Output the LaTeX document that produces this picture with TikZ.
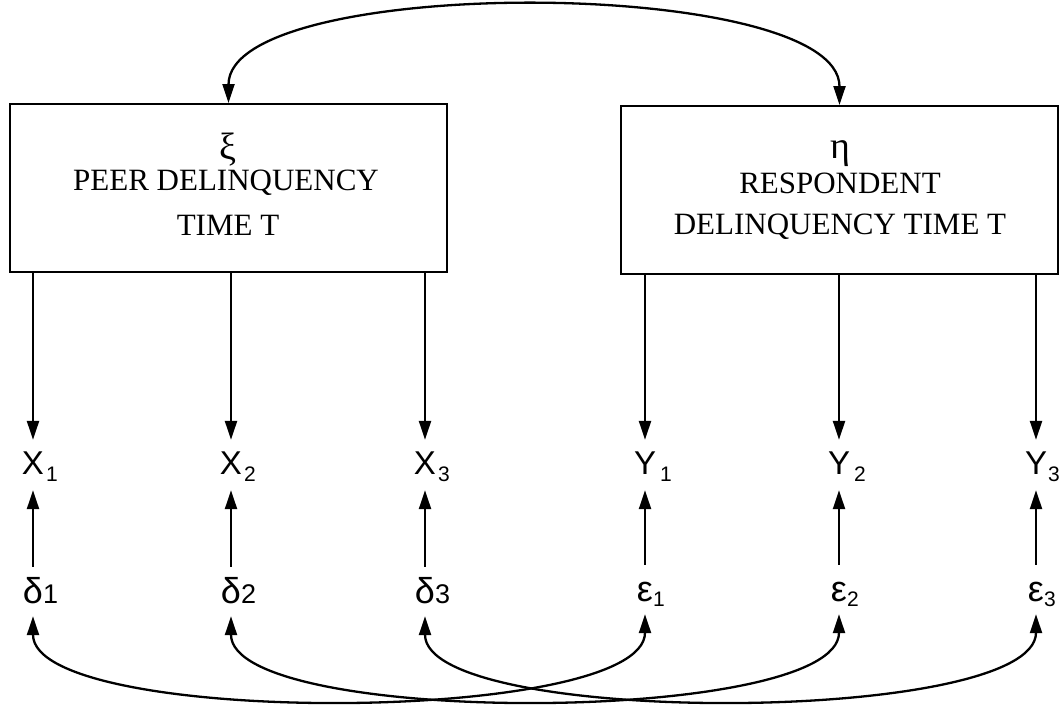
\documentclass[tikz,border=0pt]{standalone}
\usepackage{fontspec}
\setmainfont{Liberation Serif}
\newfontfamily\lblfont{Liberation Sans}
\usetikzlibrary{arrows.meta}
\newcommand{\lbl}[3]{{\lblfont\fontsize{33}{33}\selectfont #1\rlap{\hspace{#3}\raisebox{-7pt}{\fontsize{21}{21}\selectfont #2}}}}
\newcommand{\dlt}[1]{{\lblfont\fontsize{36}{36}\selectfont δ\rlap{\fontsize{27}{27}\selectfont #1}}}
\newcommand{\eps}[1]{{\lblfont\fontsize{36}{36}\selectfont ε\rlap{\raisebox{-5pt}{\fontsize{21}{21}\selectfont #1}}}}
\begin{document}
\begin{tikzpicture}[x=1pt,y=-1pt,
  arr/.style={line width=2.3pt,-{Triangle[length=19pt,width=12pt]}},
  arrtwo/.style={line width=2.3pt,{Triangle[length=19pt,width=12pt]}-{Triangle[length=19pt,width=12pt]}},
  box/.style={draw,line width=2pt,minimum width=437pt,minimum height=168pt,inner sep=0pt},
  boxtext/.style={font=\fontsize{31}{31}\selectfont,inner sep=0pt},
  greek/.style={font=\fontsize{38}{38}\selectfont,inner sep=0pt},
  obs/.style={anchor=base,inner sep=0pt,text height=34pt,text depth=16pt},
  err/.style={anchor=base,inner sep=0pt,text height=36pt,text depth=13pt}]
\useasboundingbox (0,0) rectangle (1060,704);
% boxes
\node[box] (lbox) at (228.5,188) {};
\node[box] (rbox) at (839.5,190) {};
\node[greek] (xi) at (228,150) {ξ};
\node[boxtext] (lt1) at (226,183) {PEER DELINQUENCY};
\node[boxtext] (lt2) at (228,225) {TIME T};
\node[greek] (eta) at (840,154) {η};
\node[boxtext] (rt1) at (840,183) {RESPONDENT};
\node[boxtext] (rt2) at (840,227) {DELINQUENCY TIME T};
% observed
\node[obs] (x1) at (33,474) {\lbl{X}{1}{2pt}};
\node[obs] (x2) at (231,474) {\lbl{X}{2}{2pt}};
\node[obs] (x3) at (425,474) {\lbl{X}{3}{2pt}};
\node[obs] (y1) at (645,474) {\lbl{Y}{1}{4pt}};
\node[obs] (y2) at (839,474) {\lbl{Y}{2}{4pt}};
\node[obs] (y3) at (1036,474) {\lbl{Y}{3}{1pt}};
% errors
\node[err] (d1) at (33,603) {\dlt{1}};
\node[err] (d2) at (231,603) {\dlt{2}};
\node[err] (d3) at (425,603) {\dlt{3}};
\node[err] (e1) at (645,601) {\eps{1}};
\node[err] (e2) at (839,601) {\eps{2}};
\node[err] (e3) at (1036,601) {\eps{3}};
% loadings
\draw[arr] (lbox.south -| x1) -- (x1);
\draw[arr] (lbox.south -| x2) -- (x2);
\draw[arr] (lbox.south -| x3) -- (x3);
\draw[arr] (rbox.south -| y1) -- (y1);
\draw[arr] (rbox.south -| y2) -- (y2);
\draw[arr] (rbox.south -| y3) -- (y3);
% errors to indicators
\draw[arr] (d1) -- (x1);
\draw[arr] (d2) -- (x2);
\draw[arr] (d3) -- (x3);
\draw[arr] (e1) -- (y1);
\draw[arr] (e2) -- (y2);
\draw[arr] (e3) -- (y3);
% correlated errors
\draw[arrtwo] (d1.south) .. controls +(0,111) and +(0,111) .. (e1.south);
\draw[arrtwo] (d2.south) .. controls +(0,111) and +(0,111) .. (e2.south);
\draw[arrtwo] (d3.south) .. controls +(0,111) and +(0,111) .. (e3.south);
% latent correlation
\draw[arrtwo] (lbox.north) .. controls +(0,-129) and +(0,-129) .. (rbox.north);
\end{tikzpicture}
\end{document}
